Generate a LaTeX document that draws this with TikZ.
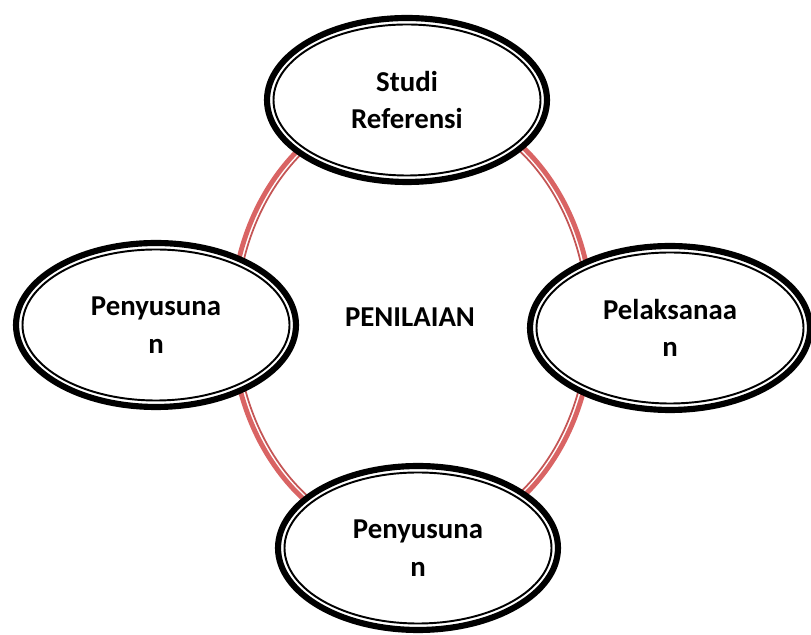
\documentclass[tikz,border=0pt]{standalone}
\usepackage{fontspec}
\setmainfont{Carlito}
\usepackage{tikz}
\usetikzlibrary{shapes.geometric}
\definecolor{rose}{HTML}{D96464}
\definecolor{roseline}{HTML}{C45555}

\begin{document}
\begin{tikzpicture}[x=0.02cm,y=0.02cm,
  lbl/.style={font=\bfseries\fontsize{16.4}{21.5}\selectfont},
  stage/.style={lbl,ellipse,draw,fill=white,line width=3.5pt,minimum width=5.6cm,minimum height=3.28cm,align=center},
  ringout/.style={rose,line width=2.8pt},
  ringin/.style={roseline,line width=1pt}]
\useasboundingbox (0,0) rectangle (811,635);
\node[lbl] (pen) at (410,318) {PENILAIAN};
% cycle ring round the centre
\draw[ringout] ([shift={(2,-5)}]pen.center) ellipse [x radius=180.5,y radius=221.5];
\draw[ringin] ([shift={(2,-5)}]pen.center) ellipse [x radius=175.5,y radius=216.5];
\node[stage] (ref) at (407,535) {Studi\\Referensi};
\node[stage] (lft) at (156,310) {Penyusuna\\n};
\node[stage] (pel) at (670,307) {Pelaksanaa\\n};
\node[stage] (bot) at (418,87) {Penyusuna\\n};
\foreach \n in {ref,lft,pel,bot} \draw[line width=1.1pt] (\n.center) ellipse [x radius=133.5,y radius=75.5];
\end{tikzpicture}
\end{document}
